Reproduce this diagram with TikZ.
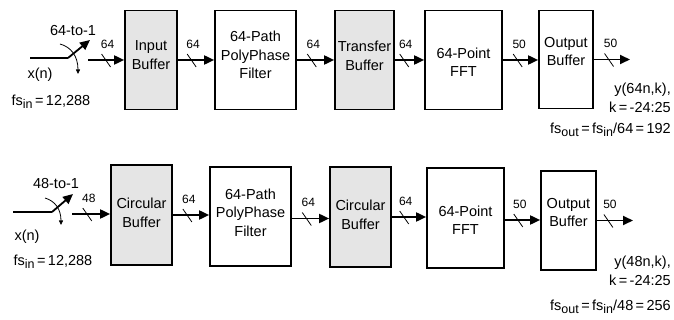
\documentclass[tikz,border=0pt]{standalone}
\usepackage{fontspec}
\setmainfont{Liberation Sans}
\usetikzlibrary{arrows.meta,calc}
\newcommand{\bmark}[3]{%
  \draw[line width=0.8pt] ($(#1)+(-4.5,-6)$) -- ($(#1)+(4.5,7)$);
  \node[lbl] (#3) at ($(#1)+(1.5,-16)$) {#2};}
\newcommand{\fsin}{fs\raisebox{-3.5pt}{\fontsize{12.5}{12.5}\selectfont in}}
\newcommand{\fsout}{fs\raisebox{-3.5pt}{\fontsize{12.5}{12.5}\selectfont out}}
\begin{document}
\begin{tikzpicture}[x=1pt,y=-1pt,
  blk/.style={draw, line width=1.7pt, inner sep=0pt},
  shaded/.style={blk, fill=gray!20},
  plain/.style={blk, fill=white},
  bt/.style={align=center, font=\fontsize{14.5}{18.5}\selectfont, inner sep=0pt},
  flow/.style={line width=1.8pt, -{Triangle[length=10pt,width=9pt]}},
  wire/.style={line width=1.8pt},
  turn/.style={line width=0.8pt, -{Triangle[length=4.5pt,width=4pt]}},
  lbl/.style={font=\fontsize{12}{14}\selectfont, inner sep=0pt},
  txt/.style={font=\fontsize{14.5}{17}\selectfont, inner sep=0pt},
]
\useasboundingbox (0,0) rectangle (674,320);

% ---------------- top row ----------------
\node[shaded, minimum width=52pt, minimum height=99pt,
  label={[bt, yshift=5pt]center:Input\\Buffer}] (A1) at (151,60) {};
\node[plain, minimum width=81pt, minimum height=99pt,
  label={[bt, yshift=5pt]center:64-Path\\PolyPhase\\Filter}] (A2) at (255.5,60) {};
\node[shaded, minimum width=59pt, minimum height=99pt,
  label={[bt, yshift=4pt]center:Transfer\\Buffer}] (A3) at (364.5,60) {};
\node[plain, minimum width=77pt, minimum height=99pt,
  label={[bt, yshift=-2pt]center:64-Point\\FFT}] (A4) at (463.5,60) {};
\node[plain, minimum width=54pt, minimum height=98pt,
  label={[bt, yshift=8pt]center:Output\\Buffer}] (A5) at (566,59.5) {};

\coordinate (xa) at (30,58);
\coordinate (swa) at (68,58);
\coordinate (tipa) at (90,40);
\coordinate (ina) at (88,60);
\coordinate (outa) at (630,60);
\coordinate (ca1) at (60,44);
\coordinate (ca2) at (78,74);
\draw[wire] (xa) -- (swa);
\draw[wire, -{Triangle[length=10pt,width=9pt]}] (swa) -- (tipa);
\draw[turn] (ca1) .. controls (71,47) and (78,56) .. (ca2);
\node[txt] (ra) at (73,31) {64-to-1};
\node[txt] (xna) at (40,75) {x(n)};
\node[txt] (fa) at (51,102) {\fsin\,=\,12,288};

\draw[flow] (ina) -- (ina -| A1.west) coordinate[pos=0.5] (sa0);
\bmark{sa0}{64}{la0}
\draw[flow] (A1.east) -- (A2.west) coordinate[pos=0.38] (sa1);
\bmark{sa1}{64}{la1}
\draw[flow] (A2.east) -- (A3.west) coordinate[pos=0.4] (sa2);
\bmark{sa2}{64}{la2}
\draw[flow] (A3.east) -- (A4.west) coordinate[pos=0.32] (sa3);
\bmark{sa3}{64}{la3}
\draw[flow] (A4.east) -- (A4.east -| A5.west) coordinate[pos=0.42] (sa4);
\bmark{sa4}{50}{la4}
\draw[flow] (A5.east) -- (A5.east -| outa) coordinate[pos=0.42] (sa5);
\bmark{sa5}{50}{la5}

\node[txt, anchor=east] (ya) at (671,90) {y(64n,k),};
\node[txt, anchor=east] (ka) at (671,107) {k\,=\,-24:25};
\node[txt, anchor=east] (oa) at (671,130) {\fsout\,=\,\fsin/64\,=\,192};

% ---------------- bottom row ----------------
\node[shaded, minimum width=61pt, minimum height=100pt,
  label={[bt, yshift=2pt]center:Circular\\Buffer}] (B1) at (141.5,215) {};
\node[plain, minimum width=81pt, minimum height=99pt,
  label={[bt, yshift=4pt]center:64-Path\\PolyPhase\\Filter}] (B2) at (250.5,216.5) {};
\node[shaded, minimum width=61pt, minimum height=100pt,
  label={[bt, yshift=2pt]center:Circular\\Buffer}] (B3) at (360.5,217) {};
\node[plain, minimum width=77pt, minimum height=100pt,
  label={[bt, yshift=-2pt]center:64-Point\\FFT}] (B4) at (465.5,218) {};
\node[plain, minimum width=55pt, minimum height=99pt,
  label={[bt, yshift=8pt]center:Output\\Buffer}] (B5) at (568.5,220.5) {};

\coordinate (xb) at (13,212);
\coordinate (swb) at (52,212);
\coordinate (tipb) at (73,194);
\coordinate (inb) at (72,214);
\coordinate (outb) at (633,222);
\coordinate (cb1) at (45,198);
\coordinate (cb2) at (61,225);
\draw[wire] (xb) -- (swb);
\draw[wire, -{Triangle[length=10pt,width=9pt]}] (swb) -- (tipb);
\draw[turn] (cb1) .. controls (55,201) and (61,209) .. (cb2);
\node[txt] (rb) at (56,184) {48-to-1};
\node[txt] (xnb) at (27,237) {x(n)};
\node[txt] (fb) at (53,262) {\fsin\,=\,12,288};

\draw[flow] (inb) -- (inb -| B1.west) coordinate[pos=0.4] (sb0);
\bmark{sb0}{48}{lb0}
\draw[flow] (B1.east) -- (B1.east -| B2.west) coordinate[pos=0.4] (sb1);
\bmark{sb1}{64}{lb1}
\draw[flow] ($(B2.east)+(0,2)$) -- ($(B2.east -| B3.west)+(0,2)$) coordinate[pos=0.4] (sb2);
\bmark{sb2}{64}{lb2}
\draw[flow] (B3.east) -- (B3.east -| B4.west) coordinate[pos=0.36] (sb3);
\bmark{sb3}{64}{lb3}
\draw[flow] ($(B4.east)+(0,2)$) -- ($(B4.east -| B5.west)+(0,2)$) coordinate[pos=0.38] (sb4);
\bmark{sb4}{50}{lb4}
\draw[flow] (B5.east) -- (B5.east -| outb) coordinate[pos=0.32] (sb5);
\bmark{sb5}{50}{lb5}

\node[txt, anchor=east] (yb) at (671,263) {y(48n,k),};
\node[txt, anchor=east] (kb) at (671,280) {k\,=\,-24:25};
\node[txt, anchor=east] (ob) at (671,307) {\fsout\,=\,\fsin/48\,=\,256};
\end{tikzpicture}
\end{document}
